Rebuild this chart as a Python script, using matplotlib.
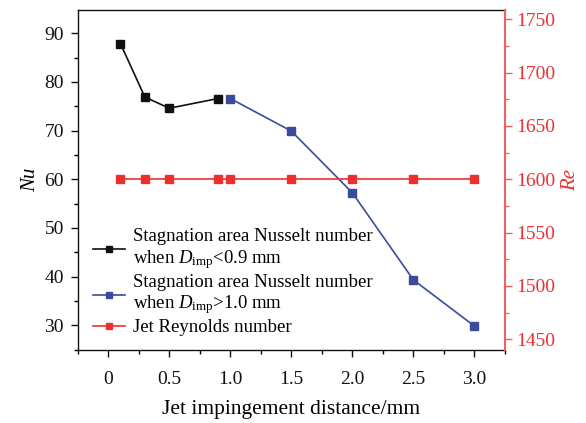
import matplotlib
matplotlib.use("Agg")
import matplotlib.pyplot as plt
from matplotlib.ticker import MultipleLocator

plt.rcParams['font.family'] = ['Liberation Serif', 'DejaVu Serif']
plt.rcParams['mathtext.fontset'] = 'custom'
plt.rcParams['mathtext.rm'] = 'Liberation Serif'
plt.rcParams['mathtext.it'] = 'Liberation Serif:italic'

# data
x_small = [0.1, 0.3, 0.5, 0.9]
nu_small = [87.9, 76.9, 74.6, 76.6]
x_large = [1.0, 1.5, 2.0, 2.5, 3.0]
nu_large = [76.6, 69.9, 57.2, 39.3, 29.8]
x_re = [0.1, 0.3, 0.5, 0.9, 1.0, 1.5, 2.0, 2.5, 3.0]
re_vals = [1600, 1600, 1600, 1600, 1600, 1600, 1600, 1600, 1600]
xticks = [0, 0.5, 1.0, 1.5, 2.0, 2.5, 3.0]
xticklabels = ['0', '0.5', '1.0', '1.5', '2.0', '2.5', '3.0']

black = '#111111'
blue = '#3b4b9c'
red = '#ee2f2f'
red_axis = '#f06262'

fig = plt.figure(figsize=(5.86, 4.23), dpi=100)
ax = fig.add_axes([0.1326, 0.1726, 0.7292, 0.8038])
ax2 = ax.twinx()

l1, = ax.plot(x_small, nu_small, '-s', color=black, lw=1.2, ms=6,
              label='Stagnation area Nusselt number\nwhen $D_{\\rm imp}$<0.9 mm')
l2, = ax.plot(x_large, nu_large, '-s', color=blue, lw=1.2, ms=6,
              label='Stagnation area Nusselt number\nwhen $D_{\\rm imp}$>1.0 mm')
l3, = ax2.plot(x_re, re_vals, '-s', color=red, lw=1.2, ms=6,
               label='Jet Reynolds number')

ax.set_xlim(-0.25, 3.25)
ax.set_ylim(24.9, 94.8)
ax2.set_ylim(1440, 1758.7)

ax.set_xticks(xticks)
ax.set_xticklabels(xticklabels)
ax.xaxis.set_minor_locator(MultipleLocator(0.25))
ax.yaxis.set_major_locator(MultipleLocator(10))
ax.yaxis.set_minor_locator(MultipleLocator(5))
ax2.yaxis.set_major_locator(MultipleLocator(50))
ax2.yaxis.set_minor_locator(MultipleLocator(25))

ax.tick_params(axis='both', which='major', direction='out', length=5, width=1,
               labelsize=14, colors=black, pad=5)
ax.tick_params(axis='both', which='minor', direction='out', length=3, width=1)
ax.tick_params(axis='x', pad=10)
ax2.tick_params(axis='y', which='major', direction='out', length=5, width=1,
                labelsize=14, colors=red_axis, labelcolor=red, pad=3)
ax2.tick_params(axis='y', which='minor', direction='out', length=3, width=1,
                colors=red_axis)

for sp in ['left', 'bottom', 'top']:
    ax.spines[sp].set_color(black)
    ax.spines[sp].set_linewidth(1.0)
ax2.spines['right'].set_color(red_axis)
ax2.spines['right'].set_linewidth(1.5)
ax.spines['right'].set_visible(False)
for sp in ['left', 'bottom', 'top']:
    ax2.spines[sp].set_visible(False)

ax.set_xlabel('Jet impingement distance/mm', fontsize=15.5, labelpad=9)
ax.set_ylabel('Nu', fontsize=15, style='italic', labelpad=3)
ax2.set_ylabel('Re', fontsize=15, style='italic', color=red, labelpad=4)

leg = ax2.legend(handles=[l1, l2, l3], loc='lower left',
                 bbox_to_anchor=(0.035, 0.04), frameon=False, fontsize=13.5,
                 handlelength=1.7, handletextpad=0.45, labelspacing=0.15,
                 borderpad=0, borderaxespad=0, markerscale=0.7)

fig.savefig('out.png', dpi=100)
